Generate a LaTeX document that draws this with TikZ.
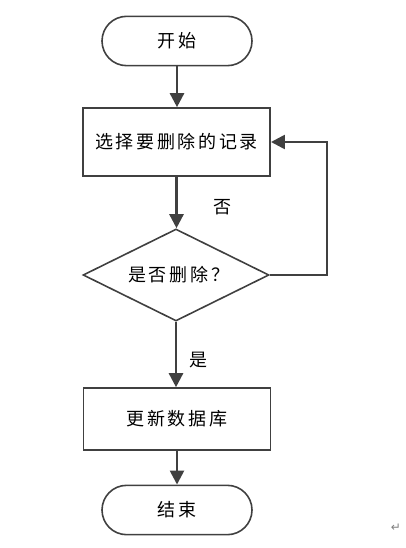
\documentclass[tikz,border=0pt]{standalone}
\usepackage{fontspec}
\usepackage{tikz}
\usetikzlibrary{shapes.geometric,arrows.meta}
\setmainfont{Noto Sans CJK SC}
\newfontfamily\markfont{DejaVu Sans}

\begin{document}
\begin{tikzpicture}[x=0.75pt,y=0.75pt,yscale=-1,xscale=1,
    boxline/.style={draw={rgb, 255:red, 64; green, 64; blue, 64}, line width=1.2pt},
    flowtext/.style={font=\fontsize{13.5}{16}\selectfont\addfontfeature{LetterSpace=15}},
    termbox/.style={boxline, flowtext, rectangle, rounded corners=18.5pt, minimum width=112.5pt, minimum height=37pt, inner sep=0pt},
    procbox/.style={boxline, flowtext, rectangle, minimum width=140.5pt, inner sep=0pt},
    decbox/.style={boxline, flowtext, diamond, aspect=2, minimum width=139.5pt, minimum height=69pt, inner sep=0pt},
    flowarrow/.style={color={rgb, 255:red, 64; green, 64; blue, 64}, line width=1.9pt, -{Triangle[length=10.5pt,width=10.5pt]}}]
        %set diagram left start at 0, and has height of 548
        \useasboundingbox (0,0) rectangle (405,548);

        %Shape: Terminal
        \node [termbox] (start) at (177,41) {开始};
        %Shape: Process
        \node [procbox, minimum height=51pt] (pick) at (176.5,142) {选择要删除的记录};
        %Shape: Decision
        \node [decbox] (ask) at (176,275) {\hspace*{4pt}是否删除？};
        %Shape: Process
        \node [procbox, minimum height=46.5pt] (update) at (177,419) {更新数据库};
        %Shape: Terminal
        \node [termbox] (finish) at (177,510) {结束};

        %Straight Lines
        \draw [flowarrow] (start) -- (start |- pick.north);
        \draw [flowarrow] (pick) -- (pick |- ask.north);
        \draw [flowarrow] (ask) -- (ask |- update.north);
        \draw [flowarrow] (update) -- (update |- finish.north);
        %Loop back
        \coordinate (back) at (327,142);
        \draw [flowarrow] (ask.east) -| (back) -- (pick.east);

        % Text Node
        \node [flowtext] (no) at (222,207) {否};
        % Text Node
        \node [flowtext] (yes) at (198,360) {是};
        % Text Node
        \node [font=\markfont\fontsize{9}{10}\selectfont, text={rgb, 255:red, 128; green, 128; blue, 128}] (mark) at (396,528) {↵};
\end{tikzpicture}
\end{document}
